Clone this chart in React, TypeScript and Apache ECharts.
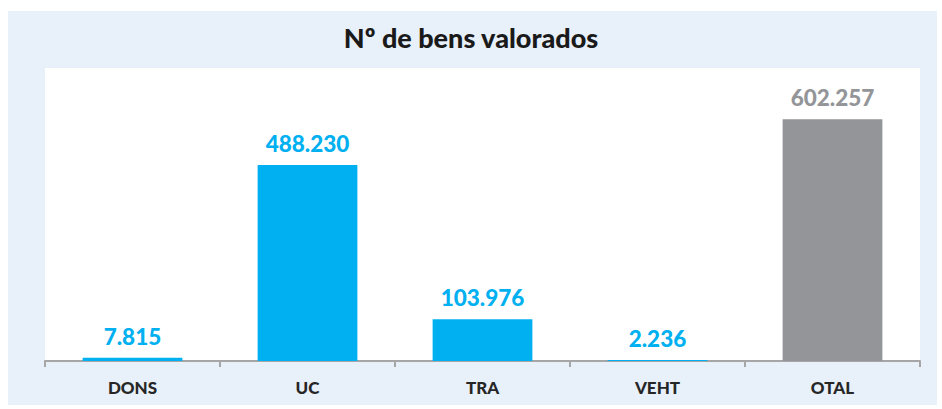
import React, { useEffect, useRef } from "react";
import * as echarts from "echarts";

const categories = ["DONS", "UC", "TRA", "VEHT", "OTAL"];
const values = [7815, 488230, 103976, 2236, 602257];
const labels = ["7.815", "488.230", "103.976", "2.236", "602.257"];
const barColors = ["#00B0F0", "#00B0F0", "#00B0F0", "#00B0F0", "#939598"];
const title = "Nº de bens valorados";

export default function App() {
  const ref = useRef<HTMLDivElement>(null);
  useEffect(() => {
    if (!ref.current) return;
    const chart = echarts.init(ref.current, null, { renderer: "svg" });
    const font = "Lato, 'Open Sans', sans-serif";
    chart.setOption({
      animation: false,
      backgroundColor: "#ffffff",
      title: {
        text: title,
        left: "center",
        top: 19,
        textStyle: { fontFamily: font, fontSize: 27, fontWeight: 900, color: "#1a1a1a" },
      },
      graphic: [
        { type: "rect", z: -10, shape: { x: 8, y: 11, width: 929, height: 394 }, style: { fill: "#E8F0F9" } },
        { type: "rect", z: -9, shape: { x: 45, y: 68, width: 875, height: 293 }, style: { fill: "#ffffff" } },
      ],
      grid: { left: 45, right: 22, top: 80, bottom: 48, containLabel: false },
      xAxis: {
        type: "category",
        data: categories,
        axisLine: { show: true, lineStyle: { color: "#A6A6A6", width: 2 } },
        axisTick: { show: true, length: 6, lineStyle: { color: "#A6A6A6", width: 2 } },
        axisLabel: { fontFamily: font, fontSize: 17, fontWeight: 900, color: "#262626", margin: 18 },
      },
      yAxis: {
        type: "value",
        min: 0,
        max: 700000,
        show: false,
        splitLine: { show: false },
      },
      series: [
        {
          type: "bar",
          barWidth: "57%",
          data: values.map((v, i) => ({
            value: v,
            itemStyle: { color: barColors[i] },
            label: {
              show: true,
              position: "top",
              distance: 10,
              formatter: labels[i],
              fontFamily: font,
              fontSize: 22.5,
              fontWeight: 900,
              color: barColors[i],
            },
          })),
        },
      ],
    });
    return () => chart.dispose();
  }, []);
  return <div ref={ref} style={{ position: "fixed", left: 0, top: 0, width: 942, height: 409 }} />;
}
